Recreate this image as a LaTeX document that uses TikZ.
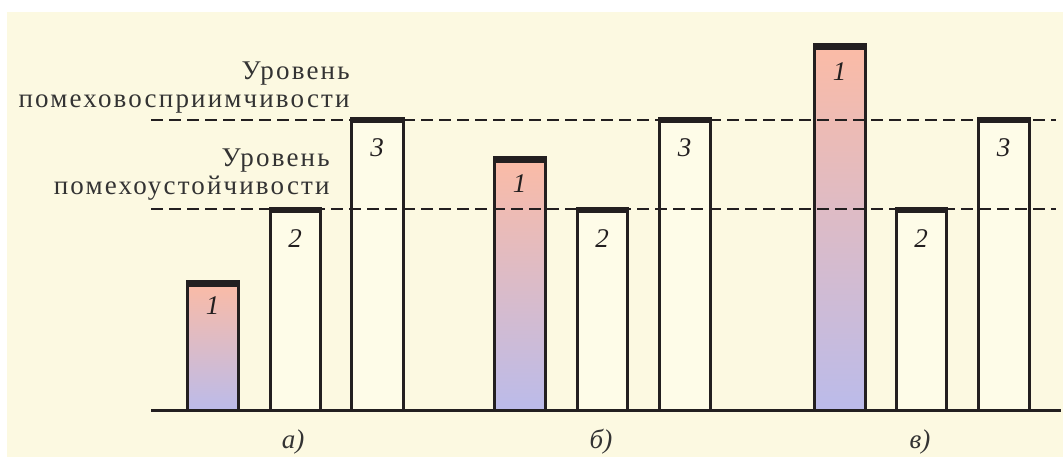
\documentclass[tikz,border=0pt]{standalone}
\usepackage{fontspec}
\setmainfont{Liberation Serif}
\definecolor{ink}{HTML}{231F20}
\definecolor{paper}{HTML}{FCF9E1}
\definecolor{barwash}{HTML}{FEFCE8}
\definecolor{warm}{HTML}{FBBBA6}
\definecolor{cool}{HTML}{BBBBEA}
\definecolor{slate}{HTML}{333333}
\tikzset{
  %% bars
  bar/.style     = {draw=ink, line width=1.5pt, fill=barwash},
  hotbar/.style  = {draw=ink, line width=1.5pt, top color=warm, bottom color=cool},
  lid/.style     = {fill=ink},
  %% lines
  level/.style   = {draw=ink, line width=0.75pt, dash pattern=on 6pt off 3pt},
  ground/.style  = {draw=ink, line width=1.5pt},
  %% text
  num/.style     = {font=\fontsize{13.5}{14}\selectfont\itshape, text=ink,
                    anchor=base, inner sep=0pt},
  caption/.style = {font=\fontsize{13.5}{14}\selectfont\itshape, text=slate,
                    anchor=base, inner sep=0pt},
  lvltext/.style = {font=\addfontfeatures{LetterSpace=8}\fontsize{13.5}{14}\selectfont,
                    text=slate, align=right, anchor=base east, inner sep=0pt},
}
\begin{document}
\begin{tikzpicture}[x=0.5pt, y=-0.5pt]

%% page and panel
\useasboundingbox (0,0) rectangle (1063,457);
\fill[white] (0,0) rectangle (1063,457);
\fill[paper] (7,12) rectangle (1063,457);

%% level captions (anchored on the last line)
\node[lvltext] (susc) at (350,107) {Уровень\\помеховосприимчивости};
\node[lvltext] (immu) at (330,194) {Уровень\\помехоустойчивости};

%% ---- case a ----
\draw[hotbar] (187,410) rectangle (238,283);
\fill[lid] (185.5,280) rectangle (239.5,287);
\draw[bar] (270,410) rectangle (320,210);
\fill[lid] (268.5,207) rectangle (321.5,213);
\draw[bar] (351,410) rectangle (403,120);
\fill[lid] (349.5,117) rectangle (404.5,123);
\node[num] (a1) at (212.5,314) {1};
\node[num] (a2) at (295,247) {2};
\node[num] (a3) at (377,156) {3};

%% ---- case b ----
\draw[hotbar] (494,410) rectangle (545,159);
\fill[lid] (492.5,156) rectangle (546.5,163);
\draw[bar] (577,410) rectangle (627,210);
\fill[lid] (575.5,207) rectangle (628.5,213);
\draw[bar] (659,410) rectangle (710,120);
\fill[lid] (657.5,117) rectangle (711.5,123);
\node[num] (b1) at (519.5,192) {1};
\node[num] (b2) at (602,247) {2};
\node[num] (b3) at (684.5,156) {3};

%% ---- case c ----
\draw[hotbar] (814,410) rectangle (865,46);
\fill[lid] (812.5,43) rectangle (866.5,50);
\draw[bar] (896,410) rectangle (946,210);
\fill[lid] (894.5,207) rectangle (947.5,213);
\draw[bar] (978,410) rectangle (1029,120);
\fill[lid] (976.5,117) rectangle (1030.5,123);
\node[num] (c1) at (839.5,80) {1};
\node[num] (c2) at (921,247) {2};
\node[num] (c3) at (1003.5,156) {3};

%% levels and ground
\draw[level] (151,120) -- (1056,120);
\draw[level] (151,209) -- (1056,209);
\draw[ground] (151,410) -- (1061,410);

%% case captions
\node[caption] (capa) at (293,448) {а)};
\node[caption] (capb) at (601,448) {б)};
\node[caption] (capc) at (920,448) {в)};

\end{tikzpicture}
\end{document}
